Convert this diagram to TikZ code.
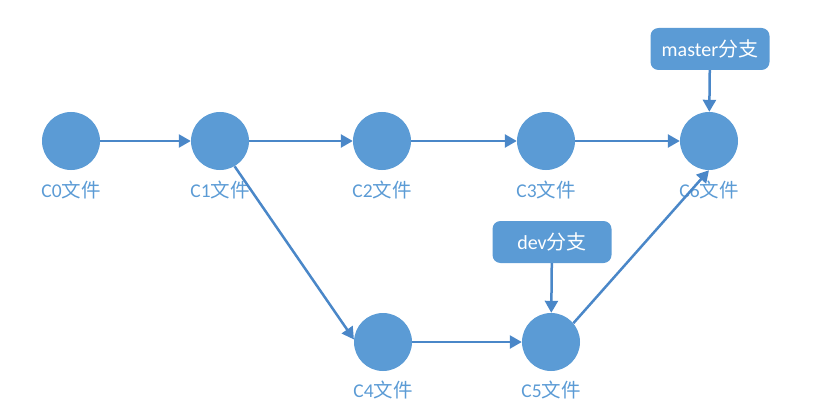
\documentclass[tikz,border=0pt]{standalone}
\usepackage{fontspec}
\setmainfont{Carlito}
\newfontfamily\cjk{Noto Sans CJK SC}
\usetikzlibrary{arrows.meta}
\definecolor{nodeblue}{HTML}{5B9BD5}
\definecolor{lineblue}{HTML}{4A87C8}
\newcommand\zh[1]{{\cjk #1}}

\begin{document}
\begin{tikzpicture}[
		x=1pt,
		y=-1pt,
		commit/.style={
			circle,
			fill=nodeblue,
			minimum size=58pt,
			inner sep=0pt,
		},
		filelabel/.style={
			text=nodeblue,
			inner sep=0pt,
			font=\fontsize{19.5}{21}\selectfont,
		},
		branch/.style={
			rectangle,
			rounded corners=8pt,
			fill=nodeblue,
			text=white,
			minimum width=119pt,
			minimum height=42pt,
			font=\fontsize{20}{22}\selectfont,
		},
		link/.style={
			draw=lineblue,
			line width=2.5pt,
			-{Triangle[length=12pt,width=13pt]},
		},
	]
		\useasboundingbox (0,0) rectangle (824,417);

		% commits
		\node[commit] (c0) at (71,141) {};
		\node[commit] (c1) at (220,141) {};
		\node[commit] (c2) at (382,141) {};
		\node[commit] (c3) at (546,141) {};
		\node[commit] (c6) at (709,141) {};
		\node[commit] (c4) at (383,342) {};
		\node[commit] (c5) at (551,342) {};

		\node[filelabel] (l0) at (71,190) {C0\zh{文件}};
		\node[filelabel] (l1) at (220,190) {C1\zh{文件}};
		\node[filelabel] (l2) at (382,190) {C2\zh{文件}};
		\node[filelabel] (l3) at (546,190) {C3\zh{文件}};
		\node[filelabel] (l6) at (709,190) {C6\zh{文件}};
		\node[filelabel] (l4) at (383,390) {C4\zh{文件}};
		\node[filelabel] (l5) at (551,390) {C5\zh{文件}};

		% branches
		\node[branch] (master) at (710,49) {master\zh{分支}};
		\node[branch] (dev) at (552,242) {dev\zh{分支}};

		\draw[link] (c0) -- (c1);
		\draw[link] (c1) -- (c2);
		\draw[link] (c2) -- (c3);
		\draw[link] (c3) -- (c6);
		\draw[link] (c1.300) -- (c4.175);
		\draw[link] (c4) -- (c5);
		\draw[link] (c5.40) -- (c6.south);
		\draw[link] (master) -- (c6);
		\draw[link] (dev) -- (c5);
	\end{tikzpicture}
\end{document}
